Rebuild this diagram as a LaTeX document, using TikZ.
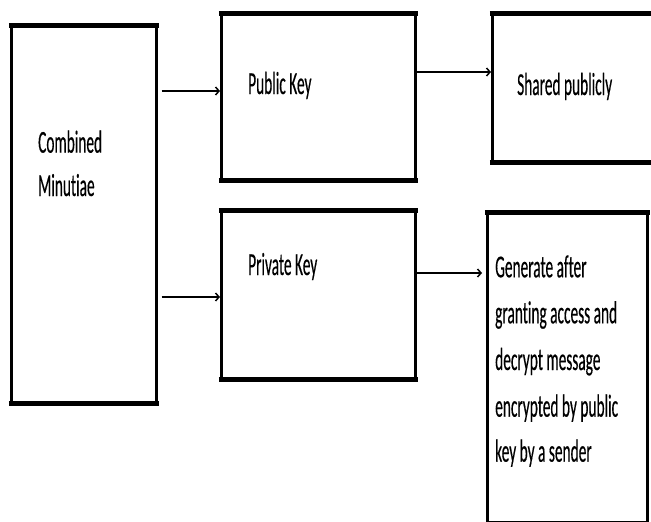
\documentclass[tikz,border=0pt]{standalone}
\usepackage{fontspec}
\newfontfamily\calfont[FakeStretch=0.48,Ligatures=NoCommon,FakeBold=0.3]{Carlito}
\usetikzlibrary{arrows.meta}
\begin{document}
\begin{tikzpicture}[x=1pt,y=-1pt,
  box/.style={draw, line width=2.5pt, inner sep=0pt, anchor=north west},
  edge/.style={line width=5pt, shorten <=-1.25pt, shorten >=-1.25pt},
  lbl/.style={anchor=base west, inner sep=0pt, font=\calfont\fontsize{32}{40}\selectfont},
  arr/.style={line width=1.5pt, -{Straight Barb[length=3.5pt,width=8pt]}}]
\clip (0,0) rectangle (651,522);
\fill[white] (0,0) rectangle (651,522);
% boxes
\node[box, minimum width=145pt, minimum height=376pt] (cm)  at (10,25)  {};
\node[box, minimum width=194pt, minimum height=165pt] (pub) at (220,13) {};
\node[box, minimum width=175pt, minimum height=147pt] (shr) at (491,13) {};
\node[box, minimum width=194pt, minimum height=167pt] (prv) at (220,210) {};
\node[box, minimum width=160pt, minimum height=309pt] (gen) at (486,212) {};
% thick top and bottom edges
\foreach \n in {cm,pub,shr,prv}{
  \draw[edge] (\n.north west) -- (\n.north east);
  \draw[edge] (\n.south west) -- (\n.south east);
}
\draw[edge] (gen.north west) -- (gen.north east);
% texts
\node[lbl] (t1) at (38,152.7) {Combined};
\node[lbl] (t2) at (38,196) {Minutiae};
\node[lbl] (t3) at (248,94) {Public Key};
\node[lbl] (t4) at (517,95) {Shared publicly};
\node[lbl] (t5) at (248,275) {Private Key};
\node[lbl] (g1) at (495,277.3) {Generate after};
\node[lbl] (g2) at (495,323.3) {granting access and};
\node[lbl] (g3) at (495,370) {decrypt message};
\node[lbl] (g4) at (495,416.7) {encrypted by public};
\node[lbl] (g5) at (495,461.7) {key by a sender};
% connectors
\draw[arr, shorten <=4pt] (cm.east |- 0,91) -- (pub.west |- 0,91);
\draw[arr, shorten <=4pt] (cm.east |- 0,297) -- (prv.west |- 0,297);
\draw[arr] (pub.east |- 0,72) -- (shr.west |- 0,72);
\draw[arr, shorten >=4pt] (prv.east |- 0,273) -- (gen.west |- 0,273);
\end{tikzpicture}
\end{document}
